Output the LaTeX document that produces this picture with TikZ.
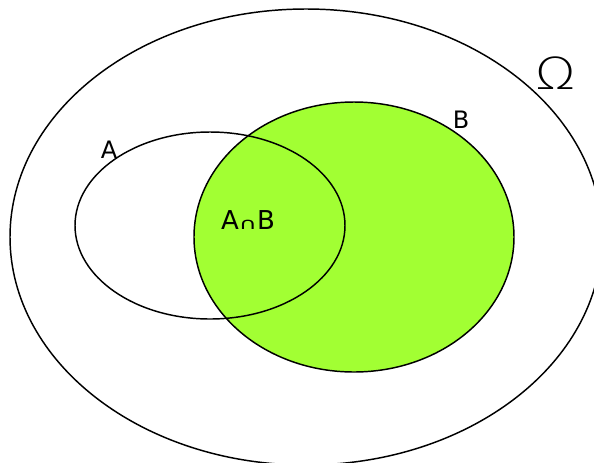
\documentclass[tikz,border=0pt]{standalone}
\usepackage{fontspec}
\setmainfont{DejaVu Sans}
\newfontfamily\omegafont{DejaVu Sans ExtraLight}
\definecolor{setgreen}{HTML}{A2FF33}
\tikzset{
  setline/.style={draw=black,line width=1.1pt},
  setlabel/.style={inner sep=0pt,font=\fontsize{18pt}{18pt}\selectfont},
}
\begin{document}
\begin{tikzpicture}[x=0.75pt,y=-0.75pt]
\useasboundingbox (0,0) rectangle (594,462);
\begin{scope}
\clip (0,0) rectangle (594,462);
\draw[setline] (306,237) ellipse [x radius=296,y radius=228];
\fill[setgreen] (354,237) ellipse [x radius=160,y radius=135];
\draw[setline] (354,237) ellipse [x radius=160,y radius=135];
\draw[setline] (210,225.5) ellipse [x radius=135,y radius=93.5];
\end{scope}
\node[setlabel] (labelA) at (109,150) {A};
\node[setlabel] (labelB) at (461,120) {B};
\node[setlabel,font=\fontsize{19.5pt}{19.5pt}\selectfont] (labelAB) at (248,220) {A\scalebox{0.95}[0.62]{∩}B};
\node[inner sep=0pt,xscale=1.2,font=\omegafont\fontsize{33pt}{33pt}\selectfont] (labelOmega) at (555.5,73.5) {Ω};
\end{tikzpicture}
\end{document}
